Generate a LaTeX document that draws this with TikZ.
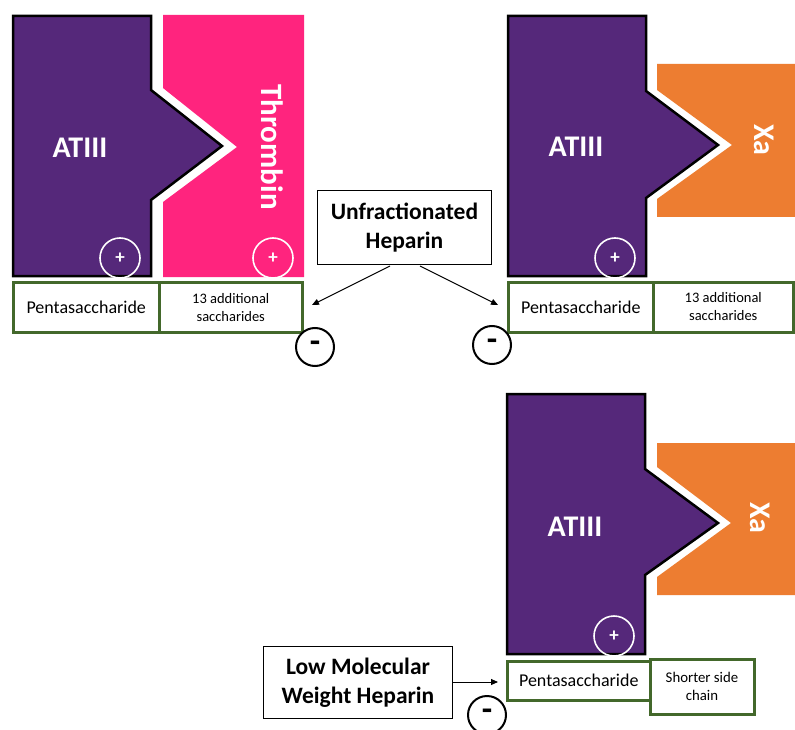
\documentclass[tikz,border=0pt]{standalone}
\usepackage{fontspec}
\setmainfont{Carlito}
\usetikzlibrary{arrows.meta}
\definecolor{atpurple}{HTML}{55287A}
\definecolor{thpink}{HTML}{FF247E}
\definecolor{xaorange}{HTML}{ED7D31}
\definecolor{sgreen}{HTML}{43682B}
\tikzset{
  atshape/.style={fill=atpurple,draw=black,line width=2.5pt,line join=miter},
  biglabel/.style={text=white,font=\fontsize{30}{34}\selectfont\bfseries,inner sep=0pt},
  plusc/.style={circle,draw=white,line width=1.6pt,minimum size=40pt,inner sep=0pt,text=white,font=\fontsize{19}{19}\selectfont\bfseries},
  minusc/.style={circle,draw=black,line width=2pt,minimum size=38pt,inner sep=0pt,fill=white,font=\fontsize{34}{34}\selectfont\bfseries},
  sbox/.style={rectangle,draw=sgreen,line width=3pt,fill=white,inner sep=0pt,align=center},
  pentatext/.style={font=\fontsize{18}{20}\selectfont},
  smalltext/.style={font=\fontsize{14.5}{18}\selectfont},
  hepbox/.style={rectangle,draw=black,line width=1.2pt,fill=white,inner sep=0pt,align=center,font=\fontsize{23.5}{29}\selectfont\bfseries},
  arr/.style={-{Triangle[length=7pt,width=6pt]},line width=0.9pt}
}
\newcommand{\mysign}{\raisebox{-3pt}{-}}
\begin{document}
\begin{tikzpicture}[x=1pt,y=-1pt]
\clip (0,0) rectangle (795,730);
\fill[white] (0,0) rectangle (795,730);

% ---------- Panel 1: ATIII + Thrombin ----------
\fill[thpink] (163,15) -- (304,15) -- (304,277) -- (163,277) -- (163,202) -- (237,147) -- (163,88) -- cycle;
\draw[atshape] (13,16) -- (151,16) -- (151,90) -- (222,146) -- (151,200) -- (151,276) -- (13,276) -- cycle;
\node[biglabel] (at1) at (80,148) {ATIII};
\node[biglabel,rotate=-90,font=\fontsize{31}{34}\selectfont\bfseries] (thr) at (272,147) {Thrombin};
\node[plusc] (p1a) at (120,258) {+};
\node[plusc] (p1b) at (273,258) {+};
\node[sbox,minimum width=145.5pt,minimum height=50pt,pentatext] (pen1) at (86.25,307.5) {Pentasaccharide};
\node[sbox,minimum width=143.5pt,minimum height=50pt,smalltext] (add1) at (230.75,307.5) {13 additional\\saccharides};
\node[minusc] (m1) at (315,347) {\mysign};

% ---------- Panel 2: ATIII + Xa ----------
\fill[xaorange] (657,64) -- (800,64) -- (800,217) -- (657,217) -- (657,199) -- (732,145) -- (657,90) -- cycle;
\draw[atshape] (508,16) -- (646,16) -- (646,91) -- (718,145) -- (646,198) -- (646,276) -- (508,276) -- cycle;
\node[biglabel] (at2) at (576,147) {ATIII};
\node[biglabel,rotate=-90] (xa1) at (764,140) {Xa};
\node[plusc] (p2) at (615,258) {+};
\node[sbox,minimum width=144.5pt,minimum height=50pt,pentatext] (pen2) at (580.75,307) {Pentasaccharide};
\node[sbox,minimum width=140.5pt,minimum height=50pt,smalltext] (add2) at (723.25,307) {13 additional\\saccharides};
\node[minusc] (m2) at (492,345) {\mysign};

% ---------- Unfractionated heparin ----------
\node[hepbox,minimum width=174pt,minimum height=74pt] (ufh) at (404.5,227.5) {Unfractionated\\Heparin};
\coordinate (ufhL) at (390,266);
\coordinate (ufhR) at (420,266);
\coordinate (tgt1) at (312,305);
\coordinate (tgt2) at (498,305);
\draw[arr] (ufhL) -- (tgt1);
\draw[arr] (ufhR) -- (tgt2);

% ---------- Panel 3: LMWH ----------
\fill[xaorange] (657,443) -- (800,443) -- (800,595) -- (657,595) -- (657,577) -- (731,523) -- (657,467) -- cycle;
\draw[atshape] (507,394) -- (645,394) -- (645,469) -- (718,523) -- (645,575) -- (645,654) -- (507,654) -- cycle;
\node[biglabel] (at3) at (575,527) {ATIII};
\node[biglabel,rotate=-90] (xa2) at (760,518) {Xa};
\node[plusc] (p3) at (614,636) {+};
\node[sbox,minimum width=142.5pt,minimum height=39pt,pentatext] (pen3) at (578.75,680.5) {Pentasaccharide};
\node[sbox,minimum width=104pt,minimum height=55pt,font=\fontsize{14.8}{18.5}\selectfont] (ssc) at (702,686.5) {Shorter side\\chain};
\node[minusc] (m3) at (487,715) {\mysign};
\node[hepbox,minimum width=189pt,minimum height=72pt] (lmwh) at (358,682.5) {Low Molecular\\Weight Heparin};
\coordinate (tgt3) at (498,682);
\draw[arr] (lmwh.east |- tgt3) -- (tgt3);
\end{tikzpicture}
\end{document}
